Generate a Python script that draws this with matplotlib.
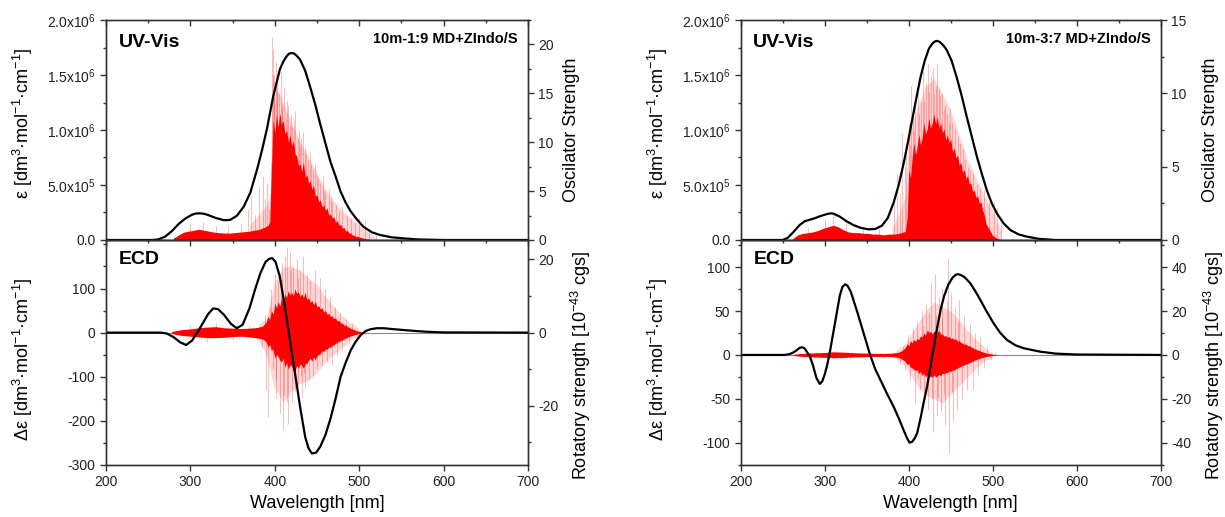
import matplotlib
matplotlib.use("Agg")
import matplotlib.pyplot as plt
import numpy as np
from matplotlib.ticker import MultipleLocator

plt.rcParams.update({
    "font.family": "Liberation Sans",
    "mathtext.fontset": "custom",
    "mathtext.rm": "Liberation Sans",
    "mathtext.it": "Liberation Sans:italic",
    "mathtext.bf": "Liberation Sans:bold",
    "axes.unicode_minus": False,
    "font.size": 10,
})

# ---------------- panel A : 10m-1:9 MD+ZIndo/S ----------------
a_uv_wl = [200, 255, 262, 270, 278, 286, 294, 302, 306, 311, 316, 320, 330, 340, 347, 355, 363, 371, 379,
           385, 391, 398, 406, 410, 414, 417, 420, 423, 426, 430, 436, 442, 448, 454, 460, 466, 472, 478,
           484, 490, 497, 505, 515, 525, 538, 552, 570, 600, 700]
a_uv_eps = [0, 0, 0.05, 0.3, 0.8, 1.45, 1.95, 2.3, 2.4, 2.43, 2.38, 2.3, 2.0, 1.8, 1.82, 2.2, 3.0, 4.3,
            6.4, 8.2, 10.2, 13.0, 15.5, 16.2, 16.7, 16.95, 17.0, 16.95, 16.75, 16.4, 15.4, 13.9, 12.3,
            10.5, 8.8, 7.1, 5.8, 4.4, 3.4, 2.6, 1.9, 1.2, 0.7, 0.45, 0.25, 0.15, 0.05, 0, 0]  # x1e5

a_uvcore_wl = [280, 286, 292, 298, 304, 310, 316, 322, 328, 334, 340, 346, 352, 358, 364, 370, 376, 382,
               388, 392, 394, 396, 398, 400, 402, 404, 406, 408, 410, 412, 414, 416, 418, 420, 422, 424,
               426, 428, 430, 432, 434, 436, 438, 440, 442, 444, 446, 448, 450, 452, 454, 456, 458, 460,
               462, 464, 466, 468, 470, 472, 474, 476, 478, 480, 482, 484, 486, 488, 490, 492, 494, 496,
               498, 500, 504, 510, 515]
a_uvcore_f = [0.2, 0.5, 0.8, 0.9, 1.0, 1.1, 1.0, 0.9, 0.8, 0.75, 0.7, 0.7, 0.75, 0.8, 0.85, 0.9, 1.0,
              1.1, 1.3, 1.5, 1.8, 7.0, 12.3, 11.0, 12.8, 11.5, 13.0, 11.8, 12.2, 10.9, 11.2, 10.0, 10.8,
              9.6, 10.2, 8.8, 8.6, 7.6, 7.8, 7.0, 8.0, 6.4, 6.7, 5.8, 6.1, 5.2, 5.6, 4.5, 4.6, 3.9, 4.1,
              3.4, 3.6, 3.0, 3.3, 2.5, 2.7, 2.2, 2.4, 1.8, 2.0, 1.5, 1.6, 1.2, 1.3, 0.9, 1.0, 0.7, 0.7,
              0.5, 0.5, 0.35, 0.4, 0.3, 0.2, 0.1, 0]
a_uvhaze_wl = [370, 380, 390, 395, 397, 400, 405, 410, 415, 420, 425, 430, 440, 450, 460, 470, 480, 490,
               500, 510, 520]
a_uvhaze_f = [1.5, 2.5, 3.5, 5, 17, 16, 15, 14, 13, 12, 11, 10, 8.5, 6.8, 5.2, 4.0, 3.0, 2.2, 1.5, 0.8, 0.3]
a_uvstick_wl = [300, 315, 330, 345, 360, 368, 372, 377, 381, 386, 389, 391, 393, 395, 396.5, 397.5, 398.5,
                399.5, 401, 402.5, 403, 405, 407, 408.5, 409, 411, 413, 414.5, 416, 417.5, 419, 421, 422.5,
                424, 427, 428.5, 430, 431.5, 433, 436, 437.5, 439, 442, 443.5, 445, 448, 449.5, 451, 454,
                457, 458.5, 460, 464, 466.5, 468, 472, 476, 480, 485, 490, 495, 500, 507, 512, 520]
a_uvstick_f = [1.6, 1.8, 1.4, 1.5, 1.7, 3.2, 4.5, 2.6, 5.5, 6.5, 4.2, 5.8, 3.2, 8, 20.8, 19.5, 17, 14.5,
               18.2, 15.2, 16.5, 15, 17.3, 13.5, 14, 15.6, 12.5, 14.2, 13.8, 11.8, 12.8, 11.6, 12.4, 13.2,
               10.5, 11.2, 9.6, 10.4, 11.0, 9.4, 8.8, 8.2, 9.0, 7.8, 7.2, 7.8, 6.6, 6.2, 5.8, 6.5, 5.1,
               4.8, 5.2, 4.4, 3.9, 3.6, 3.0, 3.4, 2.6, 2.2, 1.8, 2.3, 2.0, 1.2, 0.8]

a_cd_wl = [200, 265, 272, 280, 288, 295, 302, 308, 315, 321, 327, 333, 340, 348, 355, 362, 370, 377, 383,
           389, 393, 397, 401, 406, 412, 418, 424, 430, 436, 440, 444, 449, 454, 460, 466, 472, 478, 484,
           490, 496, 502, 508, 514, 521, 529, 540, 552, 565, 580, 600, 700]
a_cd_de = [0, 0, -2, -10, -22, -28, -18, 0, 22, 42, 55, 53, 40, 20, 10, 18, 55, 100, 135, 160, 167, 169,
           160, 127, 59, -17, -92, -168, -236, -262, -274, -272, -258, -232, -195, -150, -100, -68, -40,
           -20, -5, 4, 8, 10, 10, 8, 6, 4, 2, 0.5, 0]

a_cdcore_wl = [278, 290, 300, 310, 320, 330, 340, 350, 360, 370, 380, 386, 390, 392, 394, 396, 398, 400,
               402, 404, 406, 408, 410, 412, 414, 416, 418, 420, 422, 424, 426, 428, 430, 432, 434, 436,
               438, 440, 442, 444, 446, 448, 450, 452, 454, 456, 458, 460, 462, 464, 466, 468, 470, 472,
               474, 476, 478, 480, 482, 484, 486, 488, 490, 492, 494, 496, 498, 500, 505]
a_cdcore_hi = [0.3, 0.8, 1.0, 1.3, 1.5, 1.6, 1.3, 1.2, 1.1, 1.2, 1.4, 1.8, 3.0, 4.5, 3.5, 6.0, 5.0, 8.0,
               6.8, 8.5, 7.2, 9.5, 8.4, 10.5, 9.6, 11.5, 10.2, 11.0, 10.0, 12.0, 10.6, 11.2, 9.8, 10.6,
               9.5, 11.0, 9.0, 9.6, 8.2, 8.8, 7.6, 8.6, 7.0, 7.4, 6.4, 6.8, 5.6, 6.0, 5.0, 5.2, 4.4, 4.6,
               3.8, 4.0, 3.2, 3.3, 2.6, 2.6, 2.0, 2.1, 1.6, 1.5, 1.1, 1.0, 0.8, 0.6, 0.4, 0.35, 0.2]
a_cdcore_lo = [-0.3, -0.8, -1.0, -1.2, -1.4, -1.4, -1.3, -1.1, -1.0, -1.2, -1.5, -1.8, -2.6, -4.0, -3.2,
               -5.0, -4.4, -7.0, -6.0, -6.5, -7.6, -8.0, -7.0, -9.5, -8.2, -10.0, -8.8, -9.2, -10.4, -10.5,
               -9.0, -9.8, -8.6, -9.0, -9.8, -8.4, -8.5, -7.6, -7.0, -7.8, -6.6, -7.5, -6.3, -6.0, -5.8,
               -5.0, -5.2, -4.6, -4.5, -4.0, -4.0, -3.5, -3.3, -3.0, -2.7, -2.4, -2.2, -2.0, -1.8, -1.5,
               -1.3, -1.1, -0.9, -0.8, -0.6, -0.5, -0.4, -0.3, -0.2]
a_cdhaze_wl = [380, 390, 396, 400, 410, 420, 430, 440, 450, 460, 470, 480, 490, 500]
a_cdhaze_hi = [2, 4, 10, 14, 18, 18, 17, 15, 13, 10, 7, 4.5, 2.5, 1]
a_cdhaze_lo = [-2, -6, -12, -15, -19, -16, -14, -13, -11, -8, -6, -4, -2, -1]
a_cdstick_wl = [300, 320, 330, 350, 370, 385, 388, 390, 392, 394, 396, 398, 400, 401, 402, 404, 406, 407,
                408, 410, 411, 412, 414, 415, 416, 418, 419, 420, 422, 423, 424, 426, 427, 428, 430, 431,
                432, 434, 435, 436, 438, 440, 442, 445, 448, 450, 453, 456, 459, 462, 465, 468, 471, 474,
                477, 480, 484, 488, 492, 497]
a_cdstick_r = [2, -2.5, 2.5, -2, 2.2, -4, 5, -15.7, -23, 7, 12, -10, 16, -13, -18, 14, -22, 13, 19, -26.6,
               -17, 21, 23.4, -19, -25, 22, 17, -19, 18, -13, -16, 20, 15, -14, 17, -12, -18, 21, -11, -15,
               16, -13, 14, -12, 17, -10, 15, -9, 12, -8, 9.6, -9, 7, -6, 5.5, -5, 4, -3, 2.5, -1.5]

# ---------------- panel B : 10m-3:7 MD+ZIndo/S ----------------
b_uv_wl = [200, 250, 256, 263, 270, 276, 281, 287, 294, 300, 304, 307, 310, 313, 318, 326, 334, 343, 352,
           360, 368, 375, 382, 388, 394, 399, 404, 409, 414, 419, 424, 428, 431, 434, 437, 441, 445, 451,
           457, 463, 469, 475, 481, 487, 493, 499, 505, 513, 521, 531, 541, 555, 575, 700]
b_uv_eps = [0, 0, 0.2, 0.75, 1.35, 1.7, 1.82, 1.95, 2.15, 2.3, 2.38, 2.42, 2.4, 2.3, 2.12, 1.7, 1.36,
            1.1, 0.97, 1.0, 1.3, 2.0, 3.4, 5.0, 7.0, 8.9, 10.9, 12.9, 14.8, 16.3, 17.4, 17.85, 18.05,
            18.1, 18.0, 17.7, 17.3, 16.3, 14.8, 13.1, 11.2, 9.4, 7.6, 6.0, 4.5, 3.3, 2.4, 1.5, 0.9, 0.5,
            0.3, 0.1, 0, 0]  # x1e5

b_uvcore_wl = [262, 268, 274, 280, 286, 292, 298, 304, 310, 316, 322, 328, 334, 340, 346, 352, 358, 364,
               370, 376, 382, 388, 394, 396, 398, 400, 402, 404, 406, 408, 410, 412, 414, 416, 418, 420,
               422, 424, 426, 428, 430, 432, 434, 436, 438, 440, 442, 444, 446, 448, 450, 452, 454, 456,
               458, 460, 462, 464, 466, 468, 470, 472, 474, 476, 478, 480, 482, 484, 486, 488, 490, 492,
               494, 496, 498, 500, 504, 510]
b_uvcore_f = [0.1, 0.35, 0.45, 0.5, 0.55, 0.65, 0.8, 0.9, 1.0, 0.9, 0.7, 0.55, 0.5, 0.5, 0.45, 0.45, 0.4,
              0.4, 0.35, 0.4, 0.4, 0.45, 0.55, 0.6, 1.5, 4.8, 4.2, 5.6, 6.6, 5.8, 6.4, 7.2, 6.5, 7.0, 8.0,
              7.2, 7.6, 8.3, 7.6, 8.0, 8.6, 7.9, 8.4, 7.6, 8.0, 7.3, 7.6, 6.8, 7.2, 6.6, 6.9, 6.0, 6.3,
              5.6, 5.8, 5.1, 5.3, 4.6, 4.8, 4.2, 4.4, 3.8, 3.9, 3.3, 3.4, 2.9, 3.0, 2.5, 2.6, 2.0, 1.7,
              1.1, 0.9, 0.7, 0.5, 0.3, 0.15, 0]
b_uvhaze_wl = [380, 390, 396, 400, 410, 420, 430, 440, 450, 460, 470, 480, 490, 500, 510]
b_uvhaze_f = [0.8, 2, 3, 7, 9, 10.5, 11, 10, 8.8, 7.2, 5.5, 4.2, 3, 2, 0.6]
b_uvstick_wl = [280, 300, 310, 325, 345, 365, 382, 386, 389, 392, 395, 397, 400, 401.5, 403, 405, 406.5,
                408, 411, 412.5, 414, 417, 418.5, 420, 423, 424.5, 426, 429, 430.5, 432, 434, 435.5, 437,
                440, 441.5, 443, 446, 447.5, 449, 452, 455, 458, 461, 464, 467, 470, 473, 477, 481, 485,
                490, 495, 501, 505, 510]
b_uvstick_f = [0.9, 1.4, 1.6, 1.2, 0.9, 0.8, 2.5, 4.5, 3.2, 7.3, 5.0, 6.2, 8.0, 6.5, 10.5, 8.8, 7.4, 9.6,
               10.2, 8.6, 9.4, 11.5, 9.5, 10.7, 12.0, 10.1, 11.2, 11.8, 9.9, 10.5, 12.1, 10.3, 9.8, 10.0,
               8.9, 9.2, 8.6, 8.0, 9.0, 8.0, 7.6, 7.0, 6.6, 6.2, 5.5, 5.0, 4.8, 4.5, 3.8, 3.6, 3.4, 2.6,
               2.5, 2.2, 1.2]

b_cd_wl = [200, 252, 258, 262, 266, 270, 273, 276, 279, 282, 286, 290, 294, 297, 300, 303, 306, 311, 315,
           318, 321, 324, 327, 331, 334, 339, 344, 349, 354, 360, 366, 374, 382, 388, 394, 398, 401, 404,
           407, 410, 414, 418, 422, 426, 430, 434, 438, 442, 447, 452, 456, 459, 462, 466, 473, 479, 485,
           493, 501, 509, 517, 527, 537, 556, 575, 600, 700]
b_cd_de = [0, 0, 1, 2.5, 5, 8, 8.8, 7.5, 3, -1, -12, -26, -33, -30, -22, -11, 3, 30, 52, 68, 77.5, 80.5,
           79, 72, 63, 48, 32, 16, 0, -16, -28, -44, -59, -72, -86, -95, -100, -99, -95, -89, -72, -53,
           -35, -12, 10, 32, 52, 67, 80, 88, 91.5, 92, 91, 89, 82, 73, 63, 49, 36, 25, 17, 11, 7.6, 3.8,
           1.5, 0.5, 0]

b_cdcore_wl = [262, 270, 280, 290, 300, 310, 320, 330, 340, 350, 360, 370, 380, 388, 392, 396, 398, 400,
               402, 404, 406, 408, 410, 412, 414, 416, 418, 420, 422, 424, 426, 428, 430, 432, 434, 436,
               438, 440, 442, 444, 446, 448, 450, 452, 454, 456, 458, 460, 462, 464, 466, 468, 470, 472,
               474, 476, 478, 480, 482, 484, 486, 488, 490, 492, 494, 496, 498, 500, 505]
b_cdcore_hi = [0.2, 0.6, 0.8, 1.0, 1.1, 1.4, 1.3, 1.1, 0.9, 0.8, 0.7, 0.7, 0.8, 1.2, 2.0, 3.5, 5.0, 4.2,
               6.5, 5.5, 7.0, 6.2, 7.5, 7.0, 8.8, 8.0, 10.0, 9.0, 11.4, 10.2, 10.6, 9.6, 11.0, 10.0, 10.4,
               11.2, 9.4, 9.6, 8.6, 8.8, 8.0, 8.5, 7.4, 7.8, 7.0, 7.4, 6.2, 6.6, 5.6, 5.4, 4.8, 5.0, 4.2,
               4.2, 3.6, 3.4, 2.8, 2.6, 2.2, 2.0, 1.6, 1.4, 1.1, 0.9, 0.7, 0.6, 0.4, 0.3, 0.1]
b_cdcore_lo = [-0.2, -0.6, -0.8, -1.0, -1.1, -1.3, -1.2, -1.0, -0.9, -0.8, -0.7, -0.7, -0.8, -1.2, -2.0,
               -3.0, -4.4, -4.0, -5.6, -6.0, -6.6, -7.2, -6.8, -8.5, -7.6, -9.5, -8.4, -10.0, -9.2, -10.5,
               -9.6, -10.2, -9.0, -10.2, -9.5, -9.0, -9.4, -8.4, -8.6, -8.0, -8.2, -7.4, -7.5, -6.8,
               -7.0, -6.2, -6.0, -5.6, -5.2, -4.8, -4.6, -4.2, -4.0, -3.6, -3.2, -3.0, -2.4, -2.3, -1.8,
               -1.7, -1.3, -1.2, -0.9, -0.8, -0.6, -0.5, -0.4, -0.3, -0.1]
b_cdhaze_wl = [385, 395, 400, 410, 420, 430, 440, 450, 460, 470, 480, 490, 500]
b_cdhaze_hi = [2, 5, 8, 14, 20, 24, 22, 20, 16, 11, 7, 3.5, 1]
b_cdhaze_lo = [-2, -5, -8, -14, -18, -20, -22, -18, -14, -10, -6, -3, -1]
b_cdstick_wl = [290, 310, 330, 350, 370, 390, 393, 396, 399, 402, 405, 408, 410, 411.5, 413, 416, 417,
                418, 420, 421.5, 423, 424.5, 426, 427.5, 429, 431, 432, 433, 434.5, 436, 438, 439, 440,
                441.5, 443, 445, 447, 448, 450, 451.5, 453, 455, 457, 458.5, 460, 463, 466, 469, 473,
                476, 479, 482, 485, 489, 493, 498, 503]
b_cdstick_r = [1.5, 2.0, -1.8, 1.5, -1.2, -4, 4, -7, 9, -12, 12, -22, 15, -11, -16, 20, 13, -18, 23, -14,
               -25, 19, 33, -20, -35, 37, 18, -28, -19, 27, -26, 17, 30, -18, -32, 25, 44, -44.9, 28, -17,
               -30, 22, -25, 15, 25, -20, 18, -16, 14, -16, 10, -9, 8, -6, 4, -2.5, 1.5]

uv_left_ticks = [0, 5e5, 1e6, 1.5e6, 2e6]
uv_left_labels = ["0.0", "5.0x10$^5$", "1.0x10$^6$", "1.5x10$^6$", "2.0x10$^6$"]

INK = "#333333"
RED = "#ff0000"


def style(ax):
    for s in ax.spines.values():
        s.set_color(INK)
        s.set_linewidth(1.0)
    ax.tick_params(which="both", color=INK, labelcolor="#222222", labelsize=10, width=1.0)
    ax.tick_params(which="major", length=4)
    ax.tick_params(which="minor", length=2.5)


def panel(fig, x0, w, tag, uv, uvcore, uvhaze, uvstick, cd, cdcore, cdhaze, cdstick,
          f_max, f_step, cd_lim, cd_ticks, r_lim, r_step, lab_r1, lab_r2):
    ax_uv = fig.add_axes([x0, 0.5358, w, 0.4255])
    ax_cd = fig.add_axes([x0, 0.1006, w, 0.4352])
    tw_uv = ax_uv.twinx()
    tw_cd = ax_cd.twinx()
    for a, t in ((ax_uv, tw_uv), (ax_cd, tw_cd)):
        a.set_zorder(t.get_zorder() + 1)
        a.patch.set_visible(False)
        style(a)
        style(t)

    # UV-Vis: stick spectrum (right axis) + broadened curve (left axis)
    tw_uv.fill_between(uvhaze[0], 0, uvhaze[1], color=RED, alpha=0.16, lw=0)
    tw_uv.fill_between(uvcore[0], 0, uvcore[1], color=RED, lw=0)
    tw_uv.vlines(uvstick[0], 0, uvstick[1], color=RED, alpha=0.28, lw=0.7)
    ax_uv.plot(uv[0], np.array(uv[1]) * 1e5, color="black", lw=1.6)
    ax_uv.set_xlim(200, 700)
    ax_uv.set_ylim(0, 2e6)
    tw_uv.set_ylim(0, f_max)
    ax_uv.set_yticks(uv_left_ticks, uv_left_labels)
    ax_uv.yaxis.set_minor_locator(MultipleLocator(2.5e5))
    tw_uv.yaxis.set_major_locator(MultipleLocator(f_step))
    tw_uv.yaxis.set_minor_locator(MultipleLocator(f_step / 2))
    ax_uv.xaxis.set_major_locator(MultipleLocator(100))
    ax_uv.xaxis.set_minor_locator(MultipleLocator(50))
    ax_uv.tick_params(axis="x", which="both", top=True, bottom=False, direction="in",
                      labelbottom=False, labeltop=False)
    tw_uv.xaxis.set_visible(True)
    tw_uv.tick_params(axis="x", which="both", top=False, bottom=True, direction="out",
                      labelbottom=False, labeltop=False)
    ax_uv.set_ylabel("ε [dm$^3$·mol$^{-1}$·cm$^{-1}$]", fontsize=13)
    ax_uv.yaxis.set_label_coords(-0.168, 0.53)
    tw_uv.set_ylabel("Oscilator Strength", fontsize=13)
    tw_uv.yaxis.set_label_coords(lab_r1, 0.5)
    ax_uv.text(0.03, 0.935, "UV-Vis", transform=ax_uv.transAxes, fontsize=14,
               fontweight="bold", va="top", ha="left")
    ax_uv.text(0.975, 0.945, tag, transform=ax_uv.transAxes, fontsize=10.5,
               fontweight="bold", va="top", ha="right")

    # ECD
    tw_cd.axhline(0, color="#8a8a8a", lw=0.8, zorder=0)
    tw_cd.fill_between(cdhaze[0], cdhaze[2], cdhaze[1], color=RED, alpha=0.16, lw=0)
    tw_cd.fill_between(cdcore[0], cdcore[2], cdcore[1], color=RED, lw=0)
    tw_cd.vlines(cdstick[0], 0, cdstick[1], color=RED, alpha=0.28, lw=0.7)
    ax_cd.plot(cd[0], cd[1], color="black", lw=1.6)
    ax_cd.set_xlim(200, 700)
    ax_cd.set_ylim(*cd_lim)
    tw_cd.set_ylim(*r_lim)
    ax_cd.set_yticks(cd_ticks)
    ax_cd.yaxis.set_minor_locator(MultipleLocator((cd_ticks[1] - cd_ticks[0]) / 2))
    tw_cd.yaxis.set_major_locator(MultipleLocator(r_step))
    tw_cd.yaxis.set_minor_locator(MultipleLocator(r_step / 2))
    ax_cd.tick_params(axis="x", which="both", top=False, bottom=True, direction="out")
    ax_cd.set_xlabel("Wavelength [nm]", fontsize=13, labelpad=4)
    ax_cd.set_ylabel("Δε [dm$^3$·mol$^{-1}$·cm$^{-1}$]", fontsize=13)
    ax_cd.yaxis.set_label_coords(-0.168, 0.47)
    tw_cd.set_ylabel("Rotatory strength [10$^{-43}$ cgs]", fontsize=13)
    tw_cd.yaxis.set_label_coords(lab_r2, 0.44)
    ax_cd.text(0.03, 0.95, "ECD", transform=ax_cd.transAxes, fontsize=14,
               fontweight="bold", va="top", ha="left")


fig = plt.figure(figsize=(12.25, 5.17), dpi=100)

panel(fig, 0.0865, 0.3445, "10m-1:9 MD+ZIndo/S",
      (a_uv_wl, a_uv_eps), (a_uvcore_wl, a_uvcore_f), (a_uvhaze_wl, a_uvhaze_f),
      (a_uvstick_wl, a_uvstick_f),
      (a_cd_wl, a_cd_de), (a_cdcore_wl, a_cdcore_hi, a_cdcore_lo),
      (a_cdhaze_wl, a_cdhaze_hi, a_cdhaze_lo), (a_cdstick_wl, a_cdstick_r),
      f_max=22.5, f_step=5, cd_lim=(-300, 210), cd_ticks=[-300, -200, -100, 0, 100],
      r_lim=(-36.2, 25.3), r_step=20, lab_r1=1.083, lab_r2=1.096)

panel(fig, 0.6047, 0.3429, "10m-3:7 MD+ZIndo/S",
      (b_uv_wl, b_uv_eps), (b_uvcore_wl, b_uvcore_f), (b_uvhaze_wl, b_uvhaze_f),
      (b_uvstick_wl, b_uvstick_f),
      (b_cd_wl, b_cd_de), (b_cdcore_wl, b_cdcore_hi, b_cdcore_lo),
      (b_cdhaze_wl, b_cdhaze_hi, b_cdhaze_lo), (b_cdstick_wl, b_cdstick_r),
      f_max=15, f_step=5, cd_lim=(-125.4, 131), cd_ticks=[-100, -50, 0, 50, 100],
      r_lim=(-50.2, 52.4), r_step=20, lab_r1=1.098, lab_r2=1.098)

fig.savefig("out.png", dpi=100)
